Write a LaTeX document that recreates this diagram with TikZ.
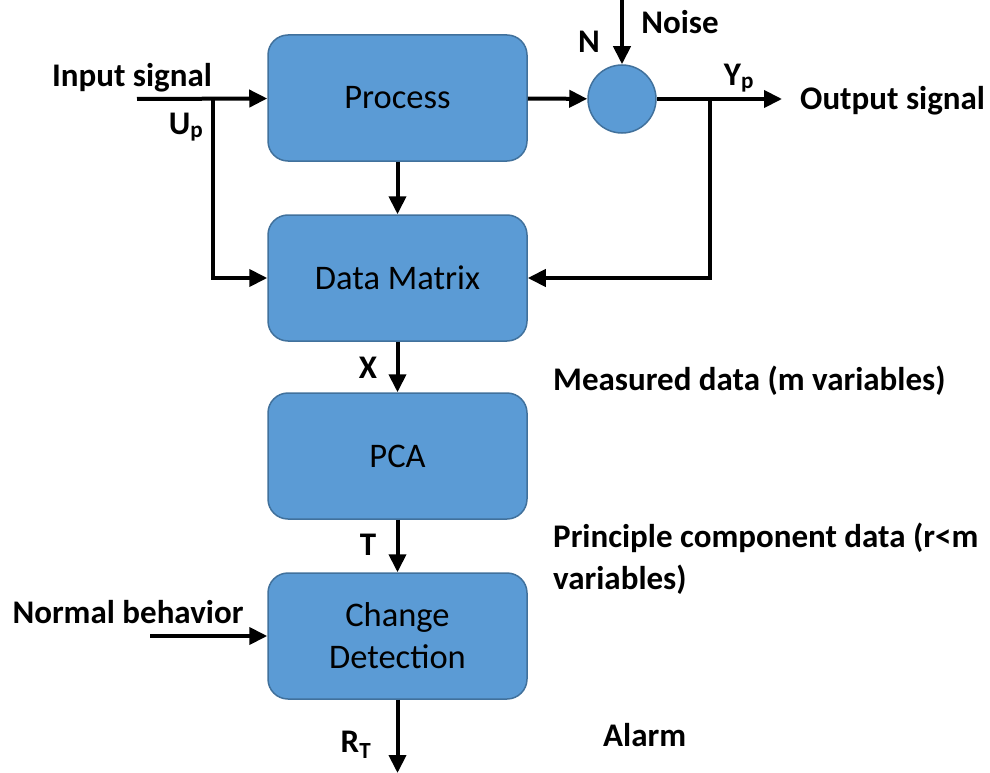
\documentclass[tikz,border=0pt]{standalone}
\usepackage{fontspec}
\setmainfont{Carlito}
\usetikzlibrary{arrows.meta, positioning}
\definecolor{boxblue}{HTML}{5B9BD5}
\definecolor{boxedge}{HTML}{41719C}
\tikzset{
  block/.style = {draw=boxedge, fill=boxblue, line width=1.5pt, rounded corners=20pt,
    minimum width=259pt, minimum height=126pt, align=center, font=\fontsize{34.5}{42}\selectfont},
  sumnode/.style = {circle, draw=boxedge, fill=boxblue, line width=1.5pt, minimum size=68pt, inner sep=0pt},
  sig/.style = {line width=4pt, -{Triangle[length=18pt, width=17pt]}},
  lbl/.style = {font=\fontsize{33}{42}\selectfont\bfseries, inner sep=0pt, align=left},
}

\begin{document}
\begin{tikzpicture}[x=1pt, y=-1pt]
\useasboundingbox (0,0) rectangle (990,773);
% blocks
\node[block] (proc) at (397.5,98) {Process};
\node[block] (dm) at (397.5,278) {Data Matrix};
\node[block] (pca) at (397.5,456) {PCA};
\node[block] (cd) at (397.5,636) {Change\\Detection};
\node[sumnode] (sum) at (622,99) {};
% free ends
\coordinate (uin) at (137,99);
\coordinate (usplit) at (213,99);
\coordinate (noise) at (622,0);
\coordinate (yout) at (782,99);
\coordinate (ysplit) at (710,99);
\coordinate (nb) at (150,636);
\coordinate (alarm) at (397.5,773);
% signals
\draw[sig] (uin) -- (proc);
\draw[sig] (usplit) |- (dm);
\draw[sig] (proc) -- (sum);
\draw[sig] (noise) -- (sum);
\draw[sig] (sum) -- (yout);
\draw[sig] (ysplit) |- (dm);
\draw[sig] (proc) -- (dm);
\draw[sig] (dm) -- (pca);
\draw[sig] (pca) -- (cd);
\draw[sig] (nb) -- (cd);
\draw[sig] (cd) -- (alarm);
% labels
\node[lbl] (tin) at (132,78) {Input signal};
\node[lbl] (tup) at (186,127) {U\textsubscript{p}};
\node[lbl] (tn) at (589,42) {N};
\node[lbl] (tnoise) at (680,22) {Noise};
\node[lbl] (typ) at (739,78) {Y\textsubscript{p}};
\node[lbl, anchor=west] (tout) at (800,101) {Output signal};
\node[lbl] (tx) at (368,368) {X};
\node[lbl] (tt) at (368,545) {T};
\node[lbl, anchor=west] (tmeas) at (553,381) {Measured data (m variables)};
\node[lbl, anchor=west] (tpc) at (553,559) {Principle component data (r<m\\variables)};
\node[lbl] (tnb) at (128,612) {Normal behavior};
\node[lbl] (trt) at (356,745) {R\textsubscript{T}};
\node[lbl, anchor=west] (talarm) at (603,735) {Alarm};
\end{tikzpicture}
\end{document}
